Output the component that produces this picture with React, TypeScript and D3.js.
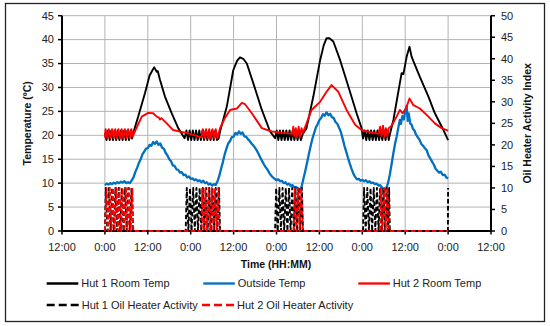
import React from "react";
import * as d3 from "d3";

// ---------- DATA (hours since 12:00 on day 0) ----------
const xTickHours = [0, 12, 24, 36, 48, 60, 72, 84, 96, 108, 120];
const xTickLabels = ["12:00", "0:00", "12:00", "0:00", "12:00", "0:00", "12:00", "0:00", "12:00", "0:00", "12:00"];
const leftTicks = [0, 5, 10, 15, 20, 25, 30, 35, 40, 45];
const rightTicks = [0, 5, 10, 15, 20, 25, 30, 35, 40, 45, 50];

const hut1Room: [number, number][] = [
  [12, 20.5], [12.45, 19], [12.9, 21], [13.35, 19], [13.8, 21], [14.25, 19], [14.7, 21], [15.15, 19], [15.6, 21],
  [16.05, 19], [16.5, 21], [16.95, 19], [17.4, 21], [17.85, 19], [18.3, 21], [18.75, 19], [19.2, 21], [19.6, 19.3],
  [19.9, 20.4], [21.3, 23.9], [23.2, 28.8], [24.5, 32.5], [25.3, 33.6], [25.8, 34.2], [26.5, 33.3], [26.8, 33.4],
  [27.4, 31.6], [28.8, 28.1], [30.7, 24.6], [32.5, 21.5], [34.3, 19.4],
  [34.8, 21], [35.25, 19], [35.7, 21], [36.15, 19], [36.6, 21], [37.05, 19], [37.5, 21], [37.95, 19], [38.4, 21],
  [38.85, 19], [39.3, 21], [39.75, 19], [40.2, 21], [40.65, 19], [41.1, 21], [41.55, 19], [42, 21], [42.45, 19],
  [42.9, 21], [43.35, 19], [43.8, 19.3], [44.2, 20.8], [46.1, 26], [47.9, 33.6], [49, 35.6], [49.8, 36.3],
  [50.7, 36], [51.7, 35], [53.5, 30.9], [55.9, 25.3], [58.2, 20.8], [59.6, 19.4],
  [60.05, 21], [60.5, 19], [60.95, 21], [61.4, 19], [61.85, 21], [62.3, 19], [62.75, 21], [63.2, 19], [63.65, 21],
  [64.1, 19], [64.55, 21], [65, 19], [65.45, 21], [65.9, 19], [66.35, 21], [66.8, 19], [67.3, 20.2],
  [68.4, 21.5], [70.3, 28.1], [72.2, 35.7], [73.2, 38.8], [74, 40.3], [74.8, 40.3], [75.9, 39.6], [77.8, 35.7],
  [80.1, 30.2], [82.4, 24.6], [83.8, 21.5], [84.2, 19.3],
  [84.65, 21], [85.1, 19], [85.55, 21], [86, 19], [86.45, 21], [86.9, 19], [87.35, 21], [87.8, 19], [88.25, 21],
  [88.7, 19], [89.15, 21], [89.6, 19], [90.05, 21], [90.5, 19], [90.95, 21], [91.4, 19], [91.8, 20.5],
  [92.7, 23.2], [94.5, 30.9], [95, 33], [95.5, 32.8], [95.8, 34], [96.4, 36.4], [97.2, 38.5], [97.8, 36.4],
  [100.1, 32.2], [102.5, 28.1], [104.3, 24.6], [106.7, 21.1], [108, 19],
];

const outsideTemp: [number, number][] = [
  [12, 9.6], [12.5, 9.9], [13, 9.7], [13.5, 10], [14, 9.8], [14.5, 10.1], [15, 9.9], [15.5, 10.2], [16, 10],
  [16.5, 10.3], [17, 10.1], [17.5, 10.4], [18, 10], [18.5, 10.2], [19, 10], [19.5, 10.6], [20, 11.2], [20.5, 12.3],
  [21, 13.2], [21.5, 14.2], [22, 15], [22.5, 16], [23, 16.6], [23.5, 17.2], [24, 17.3], [24.5, 18], [25, 17.8],
  [25.5, 18.6], [26, 18.2], [26.5, 18.7], [27, 18], [27.5, 18.3], [28, 17.4], [28.5, 17.2], [29, 16.3], [29.5, 15.8],
  [30, 15], [30.5, 14.6], [31, 13.7], [31.5, 13.6], [32, 12.9], [32.5, 12.8], [33, 12.2], [33.5, 12.3], [34, 11.7],
  [34.5, 11.8], [35, 11.2], [35.5, 11.4], [36, 10.9], [36.5, 11], [37, 10.6], [37.5, 10.8], [38, 10.4], [38.5, 10.6],
  [39, 10.2], [39.5, 10.5], [40, 10], [40.5, 10.2], [41, 9.7], [41.5, 9.9], [42, 9.5], [42.5, 9.8], [43, 9.6],
  [43.5, 10.4], [44, 11.5], [44.5, 13], [45, 14.4], [45.5, 16], [46, 17.2], [46.5, 18.3], [47, 18.8], [47.5, 19.6],
  [48, 19.7], [48.5, 20.5], [49, 20.2], [49.5, 20.8], [50, 20.3], [50.5, 20.6], [51, 19.8], [51.5, 19.7], [52, 19.2],
  [52.5, 18.8], [53, 18.3], [53.5, 17.9], [54, 17.4], [54.5, 16.8], [55, 16.1], [55.5, 15.3], [56, 14.6], [56.5, 13.9],
  [57, 13.3], [57.5, 12.8], [58, 12.1], [58.5, 11.6], [59, 11.2], [59.5, 10.9], [60, 10.6], [60.5, 10.8], [61, 10.4],
  [61.5, 10.5], [62, 10], [62.5, 10.2], [63, 9.7], [63.5, 9.9], [64, 9.4], [64.5, 9.6], [65, 9.1], [65.5, 9.2],
  [66, 8.8], [66.5, 8.7], [67, 9.2], [67.5, 10.8], [68, 12.4], [68.5, 14.1], [69, 15.9], [69.5, 17.6], [70, 19.2],
  [70.5, 20.4], [71, 21.6], [71.5, 22.3], [72, 23.2], [72.5, 23.6], [73, 24.4], [73.5, 24.1], [74, 24.8], [74.5, 24.2],
  [75, 24.5], [75.5, 23.8], [76, 23.6], [76.5, 22.8], [77, 22.4], [77.5, 21.6], [78, 20.7], [78.5, 19.3], [79, 17.8],
  [79.5, 16.6], [80, 15.3], [80.5, 14.1], [81, 13], [81.5, 12], [82, 11.3], [82.5, 10.8], [83, 10.9], [83.5, 10.5],
  [84, 10.7], [84.5, 10.4], [85, 10.6], [85.5, 10.2], [86, 10.4], [86.5, 10], [87, 10.1], [87.5, 9.8], [88, 9.9],
  [88.5, 9.5], [89, 9.6], [89.5, 9.1], [90, 8.6], [90.3, 8.2], [90.7, 8.9], [91.2, 10], [91.7, 11.8], [92.2, 14],
  [92.7, 16.3], [93.2, 18.4], [93.6, 19.7], [94, 21.3], [94.5, 23.2], [94.8, 22.4], [95.2, 24], [95.6, 23.3],
  [96, 25], [96.4, 26.1], [96.7, 23], [97, 24.6], [97.4, 22.5], [97.8, 22.2], [98.2, 21.3], [98.6, 21], [99, 20.2],
  [99.5, 19.6], [100, 19.1], [100.5, 18.2], [101, 17.8], [101.5, 17.3], [102, 16.9], [102.5, 15.8], [103, 15.2],
  [103.5, 14.5], [104, 13.9], [104.5, 13], [105, 12.6], [105.5, 12.2], [106, 12.4], [106.5, 11.7], [107, 11.8],
  [107.5, 11.2], [108, 11],
];

const hut2Room: [number, number][] = [
  [12, 19.5], [12.2, 21.3], [12.65, 19.4], [13.1, 21.3], [13.55, 19.4], [14, 21.3], [14.45, 19.4], [14.9, 21.3],
  [15.35, 19.4], [15.8, 21.3], [16.25, 19.4], [16.7, 21.3], [17.15, 19.4], [17.6, 21.3], [18.05, 19.4], [18.5, 21.3],
  [18.95, 19.4], [19.4, 21.3], [19.8, 19.8], [20.4, 20.8], [22.3, 23.9], [24.1, 24.7], [25.5, 24.6], [26.5, 23.9],
  [27.1, 23.7], [27.4, 23.3], [27.8, 23.6], [29.3, 22.5], [31.1, 21.1], [35.3, 20.4], [39, 19.6],
  [39.4, 21.3], [39.85, 19.4], [40.3, 21.3], [40.75, 19.4], [41.2, 21.3], [41.65, 19.4], [42.1, 21.3], [42.55, 19.4],
  [43, 21.3], [43.45, 19.4], [44.2, 21.5], [45.5, 23.5], [47, 25.3], [48.9, 25.6], [50.3, 26.8], [51.2, 26.5],
  [53.1, 24.6], [55.9, 21.5], [58.7, 20.8], [62.9, 20.4], [64.4, 20.3], [64.7, 21.8], [65, 19.8], [65.4, 21.5],
  [65.8, 19.6], [66.2, 21.8], [66.6, 19.6], [67, 21.5], [67.4, 20.5], [68.4, 22.5], [69.8, 25.3], [72.2, 27],
  [74, 29.1], [75.4, 30.5], [77.3, 29.1], [79.6, 25.3], [82, 22.2], [83.8, 21.1], [86, 20.7], [88.5, 20.3],
  [89, 21.8], [89.4, 19.8], [89.8, 22], [90.2, 19.6], [90.6, 21.5], [91, 19.8], [91.4, 21.5], [92.2, 22],
  [93.6, 23.9], [94.5, 25.3], [95.3, 24.6], [96.2, 25.6], [97.2, 27.7], [98.3, 26.3], [100.1, 25.6], [102.5, 23.9],
  [104.3, 22.5], [106.2, 21.5], [107.6, 21.1], [108, 21],
];

// heater activity index (right axis)
const hut1Heater: [number, number][] = [
  [12, 0], [12.25, 10], [12.7, 0], [13.15, 10], [13.6, 0], [14.05, 10], [14.5, 0], [14.95, 10], [15.4, 0],
  [15.85, 10], [16.3, 0], [16.75, 10], [17.2, 0], [17.65, 10], [18.1, 0], [18.55, 10], [19, 0], [19.45, 10], [19.9, 0],
  [34.6, 0], [34.9, 10], [35.35, 0], [35.8, 10], [36.25, 0], [36.7, 10], [37.15, 0], [37.6, 10], [38.05, 0],
  [38.5, 10], [38.95, 0], [39.4, 10], [39.85, 0], [40.3, 10], [40.75, 0], [41.2, 10], [41.65, 0], [42.1, 10],
  [42.55, 0], [43, 10], [43.45, 0], [43.9, 10], [44.2, 0],
  [59.6, 0], [59.9, 10], [60.35, 0], [60.8, 10], [61.25, 0], [61.7, 10], [62.15, 0], [62.6, 10], [63.05, 0],
  [63.5, 10], [63.95, 0], [64.4, 10], [64.85, 0], [65.3, 10], [65.75, 0], [66.2, 10], [66.65, 0], [67.1, 10], [67.4, 0],
  [84.2, 0], [84.5, 10], [84.95, 0], [85.4, 10], [85.85, 0], [86.3, 10], [86.75, 0], [87.2, 10], [87.65, 0],
  [88.1, 10], [88.55, 0], [89, 10], [89.45, 0], [89.9, 10], [90.35, 0], [90.8, 10], [91.25, 0], [91.5, 10], [91.7, 0],
  [107.95, 0], [108, 10],
];

const hut2Heater: [number, number][] = [
  [12, 0], [12.48, 10], [12.93, 0], [13.38, 10], [13.83, 0], [14.28, 10], [14.73, 0], [15.18, 10], [15.63, 0],
  [16.08, 10], [16.53, 0], [16.98, 10], [17.43, 0], [17.88, 10], [18.33, 0], [18.78, 10], [19.23, 0], [19.68, 10],
  [19.95, 0],
  [39, 0], [39.2, 10], [39.65, 0], [40.1, 10], [40.55, 0], [41, 10], [41.45, 0], [41.9, 10], [42.35, 0], [42.8, 10],
  [43.25, 0], [43.7, 10], [44.1, 0],
  [64.8, 0], [65.1, 10], [65.55, 0], [66, 10], [66.45, 0], [66.9, 10], [67.4, 0],
  [89, 0], [89.2, 10], [89.65, 0], [90.1, 10], [90.55, 0], [91, 10], [91.45, 0], [108, 0],
];

const legendRow1 = ["Hut 1 Room Temp", "Outside Temp", "Hut 2 Room Temp"];
const legendRow2 = ["Hut 1 Oil Heater Activity", "Hut 2 Oil Heater Activity"];

// ---------- CHART ----------
const W = 550, H = 326;
const PL = 62, PR = 491, PT = 15.7, PB = 231;
const BLUE = "#0070C0", RED = "#FF0000", BLACK = "#000000";
const FONT = "'Liberation Sans', Arial, sans-serif";

export default function App() {
  const x = d3.scaleLinear().domain([0, 120]).range([PL, PR]);
  const yL = d3.scaleLinear().domain([0, 45]).range([PB, PT]);
  const yR = d3.scaleLinear().domain([0, 50]).range([PB, PT]);

  const lineL = d3.line<[number, number]>().x(d => x(d[0])).y(d => yL(d[1]));
  const lineR = d3.line<[number, number]>().x(d => x(d[0])).y(d => yR(d[1]));

  const legendItems1 = [
    { label: legendRow1[0], color: BLACK, x0: 46.7 },
    { label: legendRow1[1], color: BLUE, x0: 203.3 },
    { label: legendRow1[2], color: RED, x0: 358.3 },
  ];
  const legendItems2 = [
    { label: legendRow2[0], color: BLACK, x0: 46.7 },
    { label: legendRow2[1], color: RED, x0: 202 },
  ];

  return (
    <svg width={W} height={H} style={{ display: "block", position: "absolute", left: 0, top: 0 }}
      fontFamily={FONT}>
      <rect x={0} y={0} width={W} height={H} fill="#fff" />
      <rect x={5.5} y={3.5} width={539} height={318} fill="#fff" stroke="#222" strokeWidth={1.3} />
      <defs>
        <clipPath id="plot">
          <rect x={PL} y={PT - 2} width={PR - PL} height={PB - PT + 4} />
        </clipPath>
      </defs>

      {/* grid */}
      {leftTicks.map(t => (
        <line key={"h" + t} x1={PL} x2={PR} y1={yL(t)} y2={yL(t)} stroke="#b3b3b3" strokeWidth={1} />
      ))}
      {xTickHours.map(h => (
        <line key={"v" + h} x1={x(h)} x2={x(h)} y1={PT} y2={PB} stroke="#b3b3b3" strokeWidth={1} />
      ))}

      {/* axes */}
      <line x1={PL} x2={PL} y1={PT} y2={PB} stroke="#000" strokeWidth={2} />
      <line x1={PR} x2={PR} y1={PT} y2={PB} stroke="#000" strokeWidth={2} />
      <line x1={PL - 1} x2={PR + 1} y1={PB} y2={PB} stroke="#000" strokeWidth={2} />
      {leftTicks.map(t => (
        <g key={"lt" + t}>
          <line x1={PL - 4} x2={PL} y1={yL(t)} y2={yL(t)} stroke="#000" strokeWidth={1.5} />
          <text x={54} y={yL(t)} dy="0.35em" textAnchor="end" fontSize={11} fill="#222">{t}</text>
        </g>
      ))}
      {rightTicks.map(t => (
        <g key={"rt" + t}>
          <line x1={PR} x2={PR + 4} y1={yR(t)} y2={yR(t)} stroke="#000" strokeWidth={1.5} />
          <text x={501} y={yR(t)} dy="0.35em" textAnchor="start" fontSize={11} fill="#222">{t}</text>
        </g>
      ))}
      {xTickHours.map((h, i) => (
        <g key={"xt" + h}>
          <line x1={x(h)} x2={x(h)} y1={PB} y2={PB + 3.5} stroke="#000" strokeWidth={1.5} />
          <text x={x(h)} y={251} textAnchor="middle" fontSize={11} fill="#222">{xTickLabels[i]}</text>
        </g>
      ))}

      {/* series */}
      <g clipPath="url(#plot)" fill="none" strokeLinejoin="round">
        <path d={lineL(hut1Room) || ""} stroke={BLACK} strokeWidth={1.9} />
        <path d={lineL(outsideTemp) || ""} stroke={BLUE} strokeWidth={2.3} />
        <path d={lineL(hut2Room) || ""} stroke={RED} strokeWidth={1.9} />
        <path d={lineR(hut1Heater) || ""} stroke={BLACK} strokeWidth={1.9} strokeDasharray="4.5,2.5" />
        <path d={lineR(hut2Heater) || ""} stroke={RED} strokeWidth={1.9} strokeDasharray="4.5,2.5" />
      </g>

      {/* axis titles */}
      <text x={276} y={268} textAnchor="middle" fontSize={10.5} fontWeight="bold" fill="#111">Time (HH:MM)</text>
      <text transform={`translate(31,${(PT + PB) / 2}) rotate(-90)`} textAnchor="middle" fontSize={10.5}
        fontWeight="bold" fill="#111">Temperature (ºC)</text>
      <text transform={`translate(531,${(PT + PB) / 2}) rotate(-90)`} textAnchor="middle" fontSize={10.5}
        fontWeight="bold" fill="#111">Oil Heater Activity Index</text>

      {/* legend */}
      {legendItems1.map(it => (
        <g key={it.label}>
          <line x1={it.x0} x2={it.x0 + 31.6} y1={283.5} y2={283.5} stroke={it.color} strokeWidth={2.3} />
          <text x={it.x0 + 34.5} y={283.5} dy="0.35em" fontSize={11} fill="#222">{it.label}</text>
        </g>
      ))}
      {legendItems2.map(it => (
        <g key={it.label}>
          <line x1={it.x0} x2={it.x0 + 32} y1={305} y2={305} stroke={it.color} strokeWidth={2.3}
            strokeDasharray="8,4" />
          <text x={it.x0 + 35} y={305} dy="0.35em" fontSize={11} fill="#222">{it.label}</text>
        </g>
      ))}
    </svg>
  );
}
